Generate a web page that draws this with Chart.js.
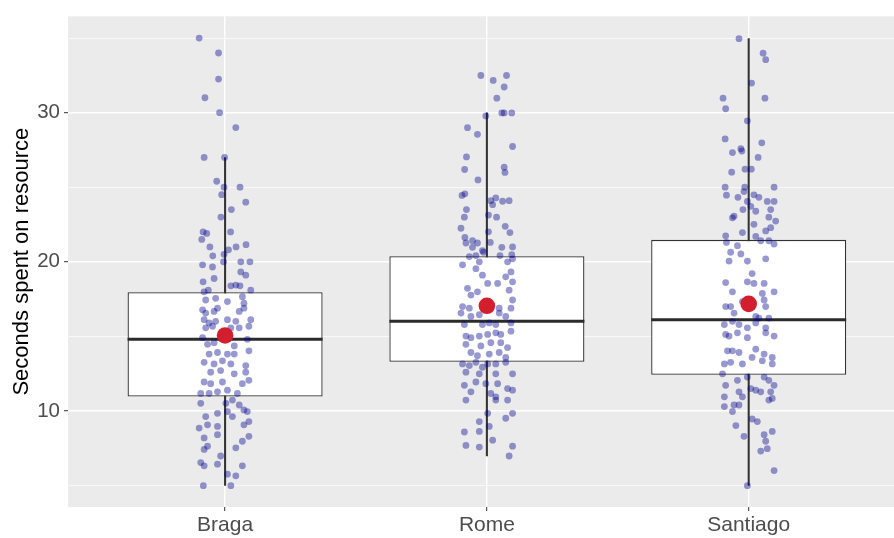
<!DOCTYPE html>
<html>
<head>
<meta charset="utf-8">
<script src="https://cdn.jsdelivr.net/npm/chart.js@4"></script>
<style>
  html, body { margin: 0; padding: 0; background: #fff; }
  #wrap { width: 894px; height: 538px; }
</style>
</head>
<body>
<div id="wrap"><canvas id="myChart" width="894" height="538"></canvas></div>
<script>
const ciudades = ['Braga', 'Rome', 'Santiago']
const bigoteBajo = [5.0, 6.98, 5.0]
const q1 = [10.97, 13.3, 12.42]
const mediana = [14.8, 16.01, 16.12]
const q3 = [17.96, 20.38, 21.47]
const bigoteAlto = [26.99, 29.98, 34.96]
const medias = [15.06, 17.05, 17.18]
const yTicks = [5, 10, 15, 20, 25, 30, 35]
const yLabels = ['', '10', '', '20', '', '30', '']

// [desplazamiento jitter, segundos]
const bragaPts = [
  [-0.099,35.0],[-0.025,34.0],[-0.025,32.25],[-0.077,31.0],[-0.021,30.0],[0.041,29.0],[-0.080,27.0],[-0.002,27.0],
  [-0.032,25.4],[-0.004,25.0],[0.057,25.0],[-0.013,24.5],[0.079,24.0],[0.024,23.5],[-0.016,23.0],[-0.084,22.0],
  [-0.070,21.9],[0.021,22.0],[-0.089,21.5],[-0.058,21.0],[0.042,21.0],[0.080,21.15],[0.013,20.8],[-0.047,20.4],
  [-0.004,20.5],[-0.006,20.0],
  [-0.086,19.8],[-0.048,19.65],[0.060,20.0],[0.095,20.0],
  [-0.084,18.66],[-0.042,18.88],[0.060,19.32],[0.079,19.1],
  [-0.080,17.99],[-0.064,18.1],[0.022,18.39],[0.041,18.44],[0.057,18.39],[0.098,18.1],
  [-0.074,17.44],[-0.036,17.55],[0.009,17.33],[0.066,17.66],[0.072,17.22],
  [-0.086,16.78],[-0.074,16.56],[-0.042,16.67],[-0.029,16.89],[0.054,16.67],[0.072,16.89],
  [-0.080,16.12],[-0.061,15.9],[-0.036,16.01],[0.009,16.12],[0.041,16.01],[0.098,16.12],
  [-0.074,15.57],[-0.048,15.68],[0.022,15.57],[0.054,15.57],[0.091,15.68],
  [-0.086,14.91],[0.085,14.8],
  [-0.067,14.47],[-0.042,14.58],[0.035,14.36],[0.091,14.03],
  [-0.061,13.81],[-0.029,13.92],[0.009,13.81],[0.035,13.81],
  [-0.080,13.26],[-0.042,13.15],[-0.010,13.36],[0.022,13.15],[0.079,13.04],
  [-0.055,12.6],[-0.017,12.71],[0.035,12.49],[0.079,12.6],
  [-0.080,11.94],[-0.055,11.83],[-0.010,11.94],[0.066,11.83],[0.091,12.05],
  [-0.093,11.17],[-0.061,11.17],[-0.029,11.28],[0.009,11.39],[0.047,11.17],
  [-0.093,10.51],[0.003,10.51],[0.028,10.73],[0.054,10.4],[0.072,10.07],
  [-0.074,9.62],[-0.029,9.84],[0.009,9.96],[0.085,9.96],[0.028,9.62],
  [-0.099,8.85],[-0.067,9.07],[-0.029,8.96],[0.072,9.07],[0.091,9.29],
  [-0.080,8.19],[-0.029,8.41],[0.066,7.97],[0.091,8.3],
  [-0.080,7.42],[-0.067,7.64],[0.041,7.53],[-0.017,6.98],
  [-0.093,6.54],[-0.080,6.32],[-0.029,6.43],[0.066,6.32],
  [0.041,5.65],[0.009,5.76],
  [-0.083,4.99],[0.022,4.99]
]

const romePts = [
  [-0.023,32.49],[0.024,32.16],[0.075,32.49],[0.066,31.72],[0.038,30.97],[-0.004,29.78],[0.057,29.98],[0.066,29.98],
  [0.095,29.98],[-0.074,28.99],[-0.036,28.55],[0.098,27.73],[-0.078,27.03],[-0.085,26.19],[0.066,26.34],[0.069,25.99],
  [-0.034,25.49],[-0.095,24.45],[-0.084,24.56],[0.015,24.1],[0.034,24.28],[0.060,24.06],[0.085,24.1],[0.022,23.83],
  [-0.078,23.5],[-0.086,22.99],[0.006,23.13],[0.037,22.99],[-0.099,22.25],[0.070,22.38],[0.088,21.96],[0.006,22.01],
  [-0.084,21.63],[-0.080,21.26],[-0.055,21.41],[-0.036,21.26],[0.013,21.3],[0.057,20.97],[0.098,21.0],[-0.055,20.97],
  [-0.017,20.75],[-0.013,20.64],[-0.067,20.35],[-0.042,20.42],[0.050,20.42],[0.095,20.48],[0.098,20.2],
  [-0.093,19.8],[-0.029,20.0],[0.079,20.0],[0.092,19.32],
  [-0.042,19.54],[-0.017,19.1],[0.072,18.99],[0.098,18.66],[0.003,18.55],[0.041,18.55],
  [-0.074,18.22],[-0.061,17.77],[-0.036,17.99],[0.085,18.1],[0.098,17.44],
  [-0.093,17.0],[-0.067,16.89],[0.047,16.89],[0.092,16.89],
  [-0.099,16.56],[-0.061,16.34],[-0.029,16.45],[0.047,16.56],[0.072,16.34],
  [-0.086,15.79],[-0.017,15.79],[0.009,15.9],[0.034,15.79],[0.092,15.9],
  [-0.080,15.02],[-0.061,14.91],[-0.029,15.02],[0.003,15.13],[0.034,15.24],[0.053,15.13],[0.092,15.35],
  [-0.080,14.47],[-0.023,14.36],[0.015,14.58],[0.079,14.25],[0.053,14.58],
  [-0.061,13.92],[-0.036,13.7],[0.009,13.81],[0.047,13.92],[0.072,13.59],
  [-0.093,13.15],[-0.067,13.04],[-0.042,13.26],[-0.017,12.93],[0.003,13.15],[0.034,13.15],[0.072,13.26],
  [-0.080,12.6],[-0.029,12.49],[0.034,12.49],[0.098,12.49],
  [-0.086,11.72],[-0.042,11.94],[-0.004,11.83],[0.041,11.83],[0.079,11.5],
  [-0.061,11.28],[0.015,11.17],[0.034,10.95],[0.034,10.73],
  [-0.080,10.73],[0.098,11.39],[0.079,10.73],
  [0.003,9.84],[-0.029,9.29],[0.072,9.51],[0.098,9.84],
  [0.009,8.96],[-0.086,8.59],[-0.029,8.63],[0.022,8.04],
  [-0.080,7.69],[-0.029,7.58],[0.098,7.64],[0.085,6.98]
]

const santiagoPts = [
  [-0.037,34.96],[0.055,33.99],[0.065,33.55],[0.011,31.98],[-0.098,30.97],[0.062,30.97],[-0.088,30.26],[-0.005,29.45],
  [-0.090,28.24],[0.050,27.98],[-0.030,27.58],[-0.026,27.43],[-0.062,27.32],[0.036,27.0],[-0.065,26.01],[-0.014,26.21],
  [0.010,26.21],[-0.090,25.0],[-0.015,25.0],[0.097,25.0],[-0.085,24.47],[-0.041,24.32],[-0.018,24.71],[0.020,24.49],
  [0.039,24.32],[0.071,24.05],[0.097,24.05],[-0.005,24.05],[0.008,23.72],[0.027,23.39],[-0.022,23.5],[0.084,23.5],
  [0.077,22.99],[0.103,22.73],[-0.056,23.06],[-0.062,22.95],[0.020,22.51],[0.065,22.07],[0.084,22.29],[-0.024,21.96],
  [-0.088,21.74],[-0.085,21.3],[0.027,21.7],[0.046,21.41],[0.077,21.41],[0.097,21.19],[-0.069,20.64],[-0.043,21.08],
  [-0.030,20.53],[-0.005,20.05],[-0.075,20.05],[0.065,20.2],
  [0.013,19.21],
  [-0.088,18.61],[-0.005,18.66],[0.059,18.55],[0.020,18.55],
  [-0.062,17.99],[0.097,17.99],[0.052,17.88],
  [-0.088,17.0],[-0.069,17.0],[-0.024,17.33],[0.059,17.44],[0.065,17.0],
  [-0.056,16.56],[0.027,16.34],[0.077,16.23],[0.039,16.23],
  [-0.093,15.79],[-0.062,16.01],[-0.037,15.79],[-0.005,15.57],[0.027,15.9],[0.065,15.57],
  [-0.088,15.13],[-0.075,15.02],[-0.043,15.24],[-0.005,14.91],[0.065,15.24],[0.097,15.02],
  [-0.081,14.03],[-0.062,14.03],[-0.037,13.92],[0.027,14.14],[0.059,13.81],[0.090,13.59],
  [-0.093,13.15],[-0.069,13.26],[-0.024,13.15],[0.013,13.59],[0.052,13.36],[0.090,13.15],
  [-0.100,12.49],[-0.043,12.05],[-0.005,12.27],[0.059,12.27],[0.077,12.05],[-0.088,11.72],
  [-0.037,11.28],[0.008,11.5],[0.027,11.39],[0.046,11.28],[0.084,11.28],[0.097,11.72],
  [-0.093,10.95],[-0.024,10.95],[0.077,10.73],[0.090,10.84],
  [-0.056,10.4],[-0.037,10.4],[-0.093,10.29],[-0.062,9.96],
  [-0.049,9.02],[0.013,9.46],[0.033,9.29],
  [-0.018,8.3],[0.059,8.41],[0.090,8.63],
  [0.065,7.97],[0.046,7.31],[0.071,7.47],
  [0.097,6.0],[-0.005,4.99]
]

const puntos = [bragaPts, romePts, santiagoPts]
let boxChart;

const fondoPanel = {
  id: 'fondoPanel',
  beforeDraw(chart) {
    const {ctx, chartArea} = chart;
    ctx.save();
    ctx.fillStyle = '#EBEBEB';
    ctx.fillRect(chartArea.left, chartArea.top, chartArea.width, chartArea.height);
    ctx.restore();
  }
};

function initChart(){
  const ctx = document.getElementById('myChart').getContext('2d');
  const fuente = "'Liberation Sans', Arial, sans-serif";

  const jitter = [];
  puntos.forEach(function(lista, i){
    lista.forEach(function(p){
      jitter.push({x: i + 1 + p[0], y: p[1]});
    });
  });

  boxChart = new Chart(ctx, {
    type: 'bar',
    data: {
      datasets: [
        {
          type: 'scatter',
          label: 'Mean',
          data: medias.map((m, i) => ({x: i + 1, y: m})),
          pointRadius: 8.3,
          backgroundColor: '#D21E2D',
          borderWidth: 0,
          order: 0
        },
        {
          type: 'scatter',
          label: 'Obs',
          data: jitter,
          pointRadius: 3.4,
          backgroundColor: 'rgba(0, 0, 139, 0.4)',
          borderWidth: 0,
          order: 1
        },
        {
          type: 'scatter',
          label: 'Median',
          data: mediana.map((m, i) => ({x: i + 1, y: m})),
          pointStyle: 'line',
          pointRadius: 97.5,
          borderColor: '#2b2b2b',
          borderWidth: 3,
          order: 2
        },
        {
          type: 'bar',
          label: 'Box',
          data: q1.map((v, i) => ({x: i + 1, y: [v, q3[i]]})),
          backgroundColor: '#ffffff',
          borderColor: '#333333',
          borderWidth: 1.3,
          borderSkipped: false,
          grouped: false,
          categoryPercentage: 1,
          barPercentage: 0.745,
          order: 3
        },
        {
          type: 'bar',
          label: 'Whisker',
          data: bigoteBajo.map((v, i) => ({x: i + 1, y: [v, bigoteAlto[i]]})),
          backgroundColor: '#333333',
          borderWidth: 0,
          grouped: false,
          barThickness: 1.4,
          order: 4
        }
      ]
    },
    options: {
      responsive: false,
      animation: false,
      events: [],
      layout: { autoPadding: false, padding: { top: 9, right: 0, left: 0, bottom: 0 } },
      plugins: {
        legend: { display: false },
        tooltip: { enabled: false }
      },
      scales: {
        x: {
          type: 'linear',
          min: 0.4,
          max: 3.555,
          offset: false,
          afterBuildTicks: function(scale){
            scale.ticks = ciudades.map((c, i) => ({value: i + 1}));
          },
          afterFit: function(scale){ scale.height = 31; },
          ticks: {
            autoSkip: false,
            maxRotation: 0,
            padding: 2,
            color: '#4D4D4D',
            font: { family: fuente, size: 21 },
            callback: function(value){ return ciudades[value - 1]; }
          },
          grid: {
            offset: false,
            color: '#ffffff',
            lineWidth: 1.4,
            tickColor: '#333333',
            tickWidth: 1,
            tickLength: 4
          },
          border: { display: false }
        },
        y: {
          type: 'linear',
          min: 3.56,
          max: 36.46,
          afterBuildTicks: function(scale){
            scale.ticks = yTicks.map(v => ({value: v}));
          },
          afterFit: function(scale){ scale.width = 68; },
          ticks: {
            autoSkip: false,
            padding: 4,
            color: '#4D4D4D',
            font: { family: fuente, size: 20.5 },
            callback: function(value, index){ return yLabels[index]; }
          },
          grid: {
            color: '#ffffff',
            lineWidth: function(c){ return c.tick && c.tick.value % 10 === 0 ? 1.4 : 0.7; },
            tickColor: function(c){ return c.tick && c.tick.value % 10 === 0 ? '#333333' : 'rgba(0,0,0,0)'; },
            tickWidth: 1,
            tickLength: 4
          },
          border: { display: false },
          title: {
            display: true,
            text: 'Seconds spent on resource',
            color: '#000000',
            font: { family: fuente, size: 22 },
            padding: { top: 9, bottom: 0 }
          }
        }
      }
    },
    plugins: [fondoPanel]
  });
}

window.onload = initChart;
</script>
</body>
</html>
